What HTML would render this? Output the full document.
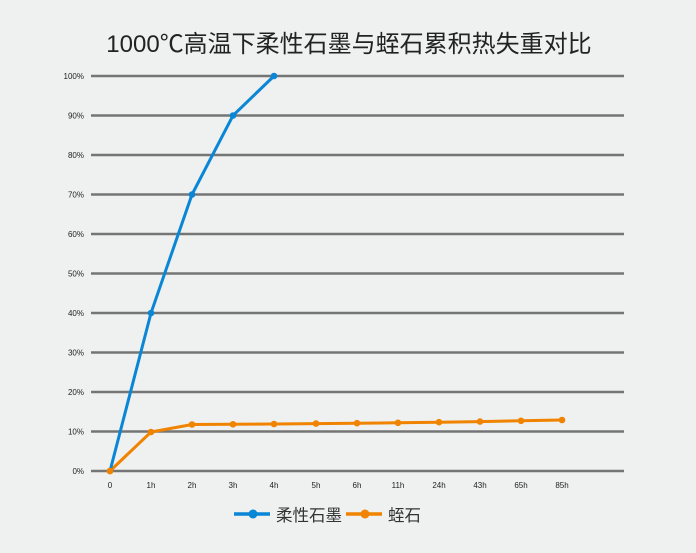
<!DOCTYPE html>
<html><head><meta charset="utf-8"><style>
body{margin:0;background:#eff0f0;}
svg{display:block;font-family:"Liberation Sans","Noto Sans CJK SC",sans-serif;}
</style></head><body>
<svg width="696" height="553" viewBox="0 0 696 553">
<rect width="696" height="553" fill="#eff0f0"/>
<text x="349" y="52" text-anchor="middle" font-size="24" fill="#222">1000℃高温下柔性石墨与蛭石累积热失重对比</text>
<g stroke="#757575" stroke-width="2.5">
<line x1="91" x2="624" y1="76" y2="76"/><line x1="91" x2="624" y1="115.5" y2="115.5"/>
<line x1="91" x2="624" y1="155" y2="155"/><line x1="91" x2="624" y1="194.5" y2="194.5"/>
<line x1="91" x2="624" y1="234" y2="234"/><line x1="91" x2="624" y1="273.5" y2="273.5"/>
<line x1="91" x2="624" y1="313" y2="313"/><line x1="91" x2="624" y1="352.5" y2="352.5"/>
<line x1="91" x2="624" y1="392" y2="392"/><line x1="91" x2="624" y1="431.5" y2="431.5"/>
<line x1="91" x2="624" y1="471" y2="471"/>
</g>
<g font-size="8" fill="#222" text-anchor="end">
<text x="84" y="79">100%</text><text x="84" y="118.5">90%</text><text x="84" y="158">80%</text>
<text x="84" y="197.5">70%</text><text x="84" y="237">60%</text><text x="84" y="276.5">50%</text>
<text x="84" y="316">40%</text><text x="84" y="355.5">30%</text><text x="84" y="395">20%</text>
<text x="84" y="434.5">10%</text><text x="84" y="474">0%</text>
</g>
<g font-size="8" fill="#222" text-anchor="middle">
<text x="110" y="488">0</text><text x="151" y="488">1h</text><text x="192" y="488">2h</text>
<text x="233" y="488">3h</text><text x="274" y="488">4h</text><text x="316" y="488">5h</text>
<text x="357" y="488">6h</text><text x="398" y="488">11h</text><text x="439" y="488">24h</text>
<text x="480" y="488">43h</text><text x="521" y="488">65h</text><text x="562" y="488">85h</text>
</g>
<polyline fill="none" stroke="#f08300" stroke-width="3" points="110,471 151,432 192,424.5 233,424.3 274,424 316,423.6 357,423.2 398,422.8 439,422.2 480,421.6 521,420.8 562,420"/>
<g fill="#f08300">
<circle cx="110" cy="471" r="3.3"/><circle cx="151" cy="432" r="3.3"/><circle cx="192" cy="424.5" r="3.3"/>
<circle cx="233" cy="424.3" r="3.3"/><circle cx="274" cy="424" r="3.3"/><circle cx="316" cy="423.6" r="3.3"/>
<circle cx="357" cy="423.2" r="3.3"/><circle cx="398" cy="422.8" r="3.3"/><circle cx="439" cy="422.2" r="3.3"/>
<circle cx="480" cy="421.6" r="3.3"/><circle cx="521" cy="420.8" r="3.3"/><circle cx="562" cy="420" r="3.3"/>
</g>
<polyline fill="none" stroke="#0a86d6" stroke-width="3" points="110,471 151,313 192,194.5 233,115.5 274,76"/>
<g fill="#0a86d6">
<circle cx="151" cy="313" r="3.3"/><circle cx="192" cy="194.5" r="3.3"/>
<circle cx="233" cy="115.5" r="3.3"/><circle cx="274" cy="76" r="3.3"/>
</g>
<circle cx="110" cy="471" r="3.3" fill="#f08300"/>
<line x1="234" x2="270" y1="514" y2="514" stroke="#0a86d6" stroke-width="3.5"/>
<circle cx="253" cy="514" r="4.5" fill="#0a86d6"/>
<text x="276" y="521" font-size="16.5" fill="#333">柔性石墨</text>
<line x1="346" x2="382" y1="514" y2="514" stroke="#f08300" stroke-width="3.5"/>
<circle cx="365" cy="514" r="4.5" fill="#f08300"/>
<text x="388" y="521" font-size="16.5" fill="#333">蛭石</text>
</svg>
</body></html>
